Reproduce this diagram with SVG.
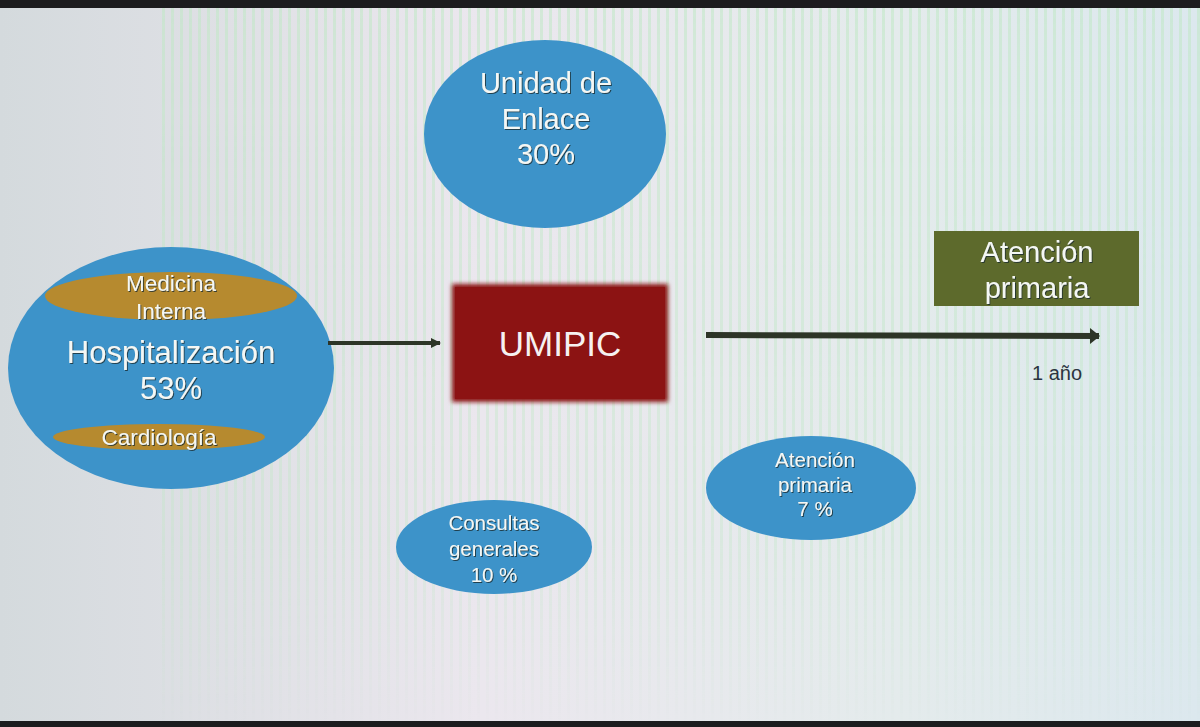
<svg xmlns="http://www.w3.org/2000/svg" width="1200" height="727" viewBox="0 0 1200 727">
  <defs>
    <linearGradient id="bg" x1="0" y1="0" x2="1" y2="0">
      <stop offset="0" stop-color="#d4dadd"/>
      <stop offset="0.4" stop-color="#ebe7ee"/>
      <stop offset="0.75" stop-color="#e4ebec"/>
      <stop offset="1" stop-color="#dce8ee"/>
    </linearGradient>
    <linearGradient id="fade" x1="0" y1="0" x2="0" y2="1">
      <stop offset="0" stop-color="#fff" stop-opacity="1"/>
      <stop offset="0.75" stop-color="#fff" stop-opacity="0.6"/>
      <stop offset="1" stop-color="#fff" stop-opacity="0"/>
    </linearGradient>
    <pattern id="stripes" width="9" height="9" patternUnits="userSpaceOnUse">
      <rect x="0" y="0" width="3" height="9" fill="#bfe6c4" opacity="0.55"/>
    </pattern>
    <mask id="stripeMask">
      <rect x="0" y="0" width="1200" height="727" fill="url(#fade)"/>
    </mask>
    <filter id="shadow" x="-10%" y="-10%" width="120%" height="130%">
      <feDropShadow dx="1" dy="1" stdDeviation="0.6" flood-color="#1e2a33" flood-opacity="0.8"/>
    </filter>
    <filter id="blur" x="-10%" y="-10%" width="120%" height="120%">
      <feGaussianBlur stdDeviation="2"/>
    </filter>
    <marker id="ah" viewBox="0 0 10 10" refX="9" refY="5" markerWidth="2.5" markerHeight="2.5" orient="auto" markerUnits="strokeWidth">
      <path d="M0,0 L10,5 L0,10 z" fill="#2d3527"/>
    </marker>
    <marker id="ah2" viewBox="0 0 10 10" refX="9" refY="5" markerWidth="1.7" markerHeight="2.7" orient="auto" markerUnits="strokeWidth" preserveAspectRatio="none">
      <path d="M0,0 L10,5 L0,10 z" fill="#2d3527"/>
    </marker>
    <style>
      .blue { fill: #3d93c9; }
      .brown { fill: #b68a2f; }
      .t { font-family: "Liberation Sans", Arial, sans-serif; fill: #f4f7f4; text-anchor: middle; filter: url(#shadow); }
      .dark { font-family: "Liberation Sans", Arial, sans-serif; fill: #2b3440; text-anchor: middle; }
      .conn { stroke: #2d3527; fill: none; }
    </style>
  </defs>

  <rect x="0" y="0" width="1200" height="727" fill="url(#bg)"/>
  <rect x="160" y="0" width="1040" height="727" fill="url(#stripes)" mask="url(#stripeMask)"/>
  <rect x="0" y="0" width="1200" height="8" fill="#1c1c1e"/>
  <rect x="0" y="721" width="1200" height="6" fill="#1c1c1e"/>

  <g id="hospitalizacion">
    <ellipse class="blue" cx="171" cy="368" rx="163" ry="121"/>
    <ellipse class="brown" cx="171" cy="296" rx="126" ry="24"/>
    <ellipse class="brown" cx="159" cy="437" rx="106" ry="13"/>
    <text class="t" x="171" y="291" font-size="22.5">Medicina</text>
    <text class="t" x="171" y="319" font-size="22.5">Interna</text>
    <text class="t" x="171" y="363" font-size="31">Hospitalización</text>
    <text class="t" x="171" y="399" font-size="31">53%</text>
    <text class="t" x="159" y="445" font-size="22.5">Cardiología</text>
  </g>

  <g id="unidad-enlace">
    <ellipse class="blue" cx="545" cy="134" rx="121" ry="94"/>
    <text class="t" x="546" y="93" font-size="29">Unidad de</text>
    <text class="t" x="546" y="129" font-size="29">Enlace</text>
    <text class="t" x="546" y="164" font-size="29">30%</text>
  </g>

  <g id="umipic">
    <rect x="452" y="284" width="216" height="118" fill="#8a1414" filter="url(#blur)"/>
    <rect x="455" y="287" width="210" height="112" fill="#8c1313"/>
    <text x="560" y="356" font-size="35" font-family="Liberation Sans, Arial, sans-serif" fill="#f6f1f1" text-anchor="middle">UMIPIC</text>
  </g>

  <g id="atencion-primaria-box">
    <rect x="934" y="231" width="205" height="75" fill="#5d6a2c"/>
    <text class="t" x="1037" y="262" font-size="29">Atención</text>
    <text class="t" x="1037" y="298" font-size="29">primaria</text>
  </g>

  <g id="atencion-primaria-7">
    <ellipse class="blue" cx="811" cy="488" rx="105" ry="52"/>
    <text class="t" x="815" y="467" font-size="20.5">Atención</text>
    <text class="t" x="815" y="492" font-size="20.5">primaria</text>
    <text class="t" x="815" y="516" font-size="20.5">7 %</text>
  </g>

  <g id="consultas-generales">
    <ellipse class="blue" cx="494" cy="547" rx="98" ry="47"/>
    <text class="t" x="494" y="530" font-size="20.5">Consultas</text>
    <text class="t" x="494" y="556" font-size="20.5">generales</text>
    <text class="t" x="494" y="582" font-size="20.5">10 %</text>
  </g>

  <g id="connectors">
    <line class="conn" x1="328" y1="343" x2="440" y2="343" stroke-width="4" marker-end="url(#ah)"/>
    <line class="conn" x1="706" y1="335" x2="1099" y2="336" stroke-width="6" marker-end="url(#ah2)"/>
    <text class="dark" x="1057" y="380" font-size="20">1 año</text>
  </g>
</svg>
